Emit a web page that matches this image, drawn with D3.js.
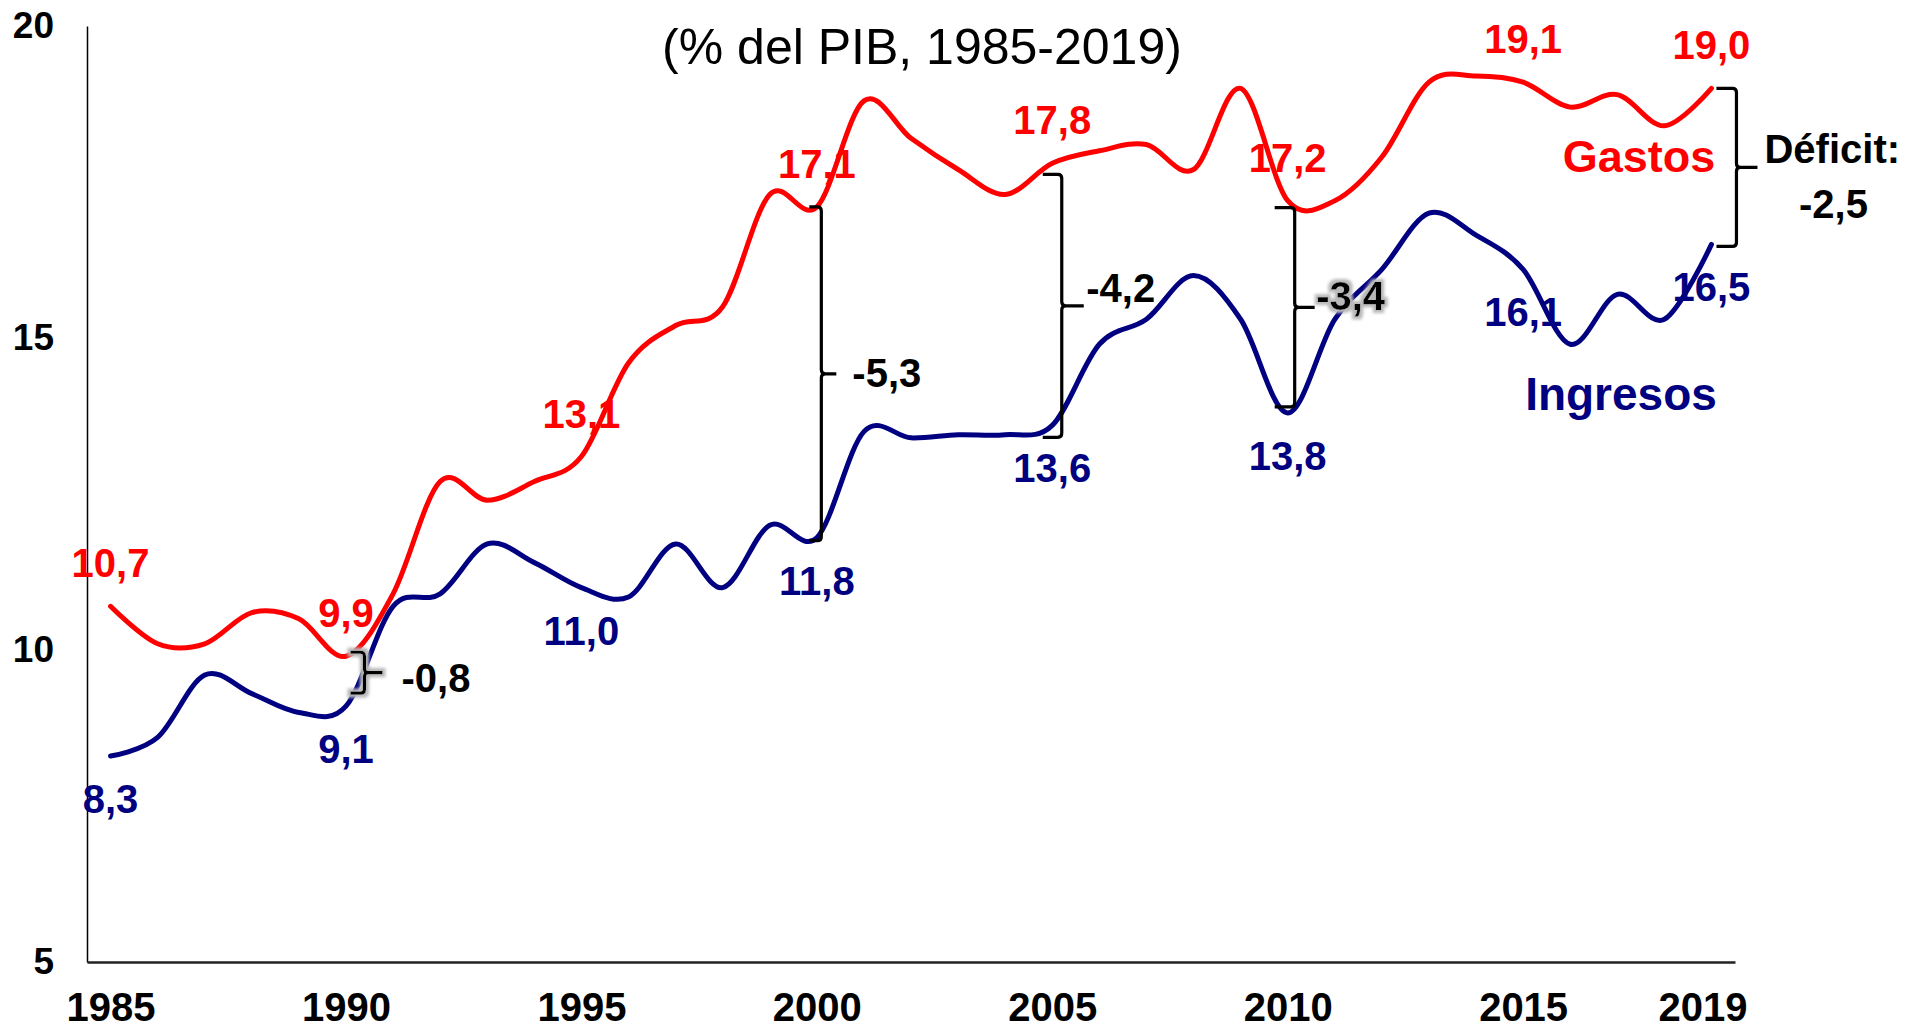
<!DOCTYPE html>
<html>
<head>
<meta charset="utf-8">
<script src="https://cdn.jsdelivr.net/npm/d3@7"></script>
<style>
  html, body { margin: 0; padding: 0; background: #fff; }
  svg { display: block; font-family: "Liberation Sans", Arial, sans-serif; }
</style>
</head>
<body>
<svg id="chart" width="1911" height="1031"></svg>
<script>
// ---------- data ----------
const years = d3.range(1985, 2020);
const gastos = [10.7, 10.1, 10.1, 10.6, 10.5, 9.9, 10.9, 12.7, 12.4, 12.7,
                13.1, 14.6, 15.2, 15.5, 17.3, 17.1, 18.8, 18.2, 17.7, 17.3,
                17.8, 18.0, 18.1, 17.7, 19.0, 17.2, 17.2, 17.9, 19.1, 19.2,
                19.1, 18.7, 18.9, 18.4, 19.0];
const ingresos = [8.3, 8.6, 9.6, 9.3, 9.0, 9.1, 10.7, 10.9, 11.7, 11.4,
                  11.0, 10.85, 11.7, 11.0, 12.0, 11.8, 13.5, 13.4, 13.45, 13.45,
                  13.6, 14.9, 15.3, 16.0, 15.3, 13.8, 15.3, 16.1, 17.0, 16.65,
                  16.1, 14.9, 15.7, 15.3, 16.5];
const labelYears = [1985, 1990, 1995, 2000, 2005, 2010, 2015, 2019];
const deficitYears = [1990, 2000, 2005, 2010, 2019];
const xTickYears = [1985, 1990, 1995, 2000, 2005, 2010, 2015, 2019];
const yTickValues = [5, 10, 15, 20];
const title = "(% del PIB, 1985-2019)";
const seriesNames = ["Gastos", "Ingresos"];

// ---------- layout ----------
const RED = "#ff0000", NAVY = "#000080";
const svg = d3.select("#chart");
const x = d3.scalePoint().domain(years).range([87, 1735]).padding(0.5);
const y = d3.scaleLinear().domain([5, 20]).range([962, 26]);
const fmt = v => d3.format(".1f")(v).replace(".", ",").replace("\u2212", "-");
const idx = yr => years.indexOf(yr);

// glow filter
const defs = svg.append("defs");
const f = defs.append("filter").attr("id", "glow")
  .attr("x", "-50%").attr("y", "-50%").attr("width", "200%").attr("height", "200%");
f.append("feMorphology").attr("in", "SourceAlpha").attr("operator", "dilate").attr("radius", 2.5).attr("result", "d");
f.append("feGaussianBlur").attr("in", "d").attr("stdDeviation", 1.8).attr("result", "b");
f.append("feFlood").attr("flood-color", "#b8b8b8").attr("result", "c");
f.append("feComposite").attr("in", "c").attr("in2", "b").attr("operator", "in").attr("result", "g");
const fm = f.append("feMerge");
fm.append("feMergeNode").attr("in", "g");
fm.append("feMergeNode").attr("in", "SourceGraphic");

// title
svg.append("text").attr("x", 922).attr("y", 64)
  .attr("text-anchor", "middle").attr("font-size", 50).attr("fill", "#000")
  .text(title);

// axes
const yAxis = d3.axisLeft(y).tickValues(yTickValues).tickSize(0).tickSizeOuter(0).tickPadding(33);
const gy = svg.append("g").attr("transform", "translate(87,0)").call(yAxis);
gy.select(".domain").attr("stroke", "#000").attr("stroke-width", 1.5);
gy.selectAll("text").attr("font-size", 37).attr("font-weight", "bold")
  .attr("font-family", "Liberation Sans, Arial, sans-serif").attr("fill", "#000");

const xAxis = d3.axisBottom(x).tickValues(xTickYears).tickSize(0).tickSizeOuter(0).tickPadding(31);
const gx = svg.append("g").attr("transform", "translate(0,962)").call(xAxis);
gx.select(".domain").attr("stroke", "#222").attr("stroke-width", 2.5);
gx.selectAll("text").attr("font-size", 40).attr("font-weight", "bold")
  .attr("font-family", "Liberation Sans, Arial, sans-serif").attr("fill", "#000")
  .attr("dx", d => d === 2019 ? -9 : 0);

// data labels (under the lines)
const lbl = svg.append("g").attr("font-weight", "bold").attr("font-size", 40).attr("text-anchor", "middle");
lbl.selectAll("text.g").data(labelYears).join("text").attr("class", "g")
  .attr("x", d => x(d)).attr("y", d => y(gastos[idx(d)]) - 29)
  .attr("fill", RED).text(d => fmt(gastos[idx(d)]));
lbl.selectAll("text.i").data(labelYears).join("text").attr("class", "i")
  .attr("x", d => x(d)).attr("y", d => y(ingresos[idx(d)]) + 57)
  .attr("fill", NAVY).text(d => fmt(ingresos[idx(d)]));

// lines
const line = arr => d3.line().x((d, i) => x(years[i])).y(d => y(d)).curve(d3.curveCardinal.tension(0))(arr);
svg.append("path").attr("d", line(gastos)).attr("fill", "none").attr("stroke", RED)
  .attr("stroke-width", 5).attr("stroke-linecap", "round");
svg.append("path").attr("d", line(ingresos)).attr("fill", "none").attr("stroke", NAVY)
  .attr("stroke-width", 5).attr("stroke-linecap", "round");

// series names
svg.append("text").attr("x", 1639).attr("y", 172).attr("text-anchor", "middle")
  .attr("font-size", 45).attr("font-weight", "bold").attr("fill", RED).text(seriesNames[0]);
svg.append("text").attr("x", 1621).attr("y", 410).attr("text-anchor", "middle")
  .attr("font-size", 46).attr("font-weight", "bold").attr("fill", NAVY).text(seriesNames[1]);

// deficit braces
const braceLayout = {
  1990: {dx: 18.5, t: -4, b: -13, hook: 14, nub: 18, lx: 55.5, ly: 5, glow: true},
  2000: {dx: 4.5, t: 0, b: 3, hook: 12, nub: 15, lx: 35.5, ly: -1},
  2005: {dx: 9.5, t: 11, b: 12, hook: 19, nub: 22, lx: 34, ly: -18.5},
  2010: {dx: 7, t: 7, b: -6, hook: 20, nub: 20, lx: 28.5, ly: -12, glowText: true},
  2019: {dx: 25, t: 0, b: 2, hook: 20, nub: 21}
};
function bracePath(xv, y1, y2, hook, nub) {
  const ym = (y1 + y2) / 2, r = 4;
  return `M${xv - hook},${y1} L${xv - r},${y1} Q${xv},${y1} ${xv},${y1 + r} L${xv},${ym - r} Q${xv},${ym} ${xv + r},${ym} L${xv + nub},${ym}` +
         ` M${xv + r},${ym} Q${xv},${ym} ${xv},${ym + r} L${xv},${y2 - r} Q${xv},${y2} ${xv - r},${y2} L${xv - hook},${y2}`;
}
const gb = svg.append("g");
deficitYears.forEach(yr => {
  const L = braceLayout[yr];
  const i = idx(yr);
  const xv = x(yr) + L.dx;
  const y1 = y(gastos[i]) + L.t, y2 = y(ingresos[i]) + L.b;
  const ym = (y1 + y2) / 2;
  const deficit = fmt(-(Math.round((gastos[i] - ingresos[i]) * 10) / 10));
  const p = gb.append("path").attr("d", bracePath(xv, y1, y2, L.hook, L.nub))
    .attr("fill", "none").attr("stroke", "#000").attr("stroke-width", 3.2);
  if (L.glow) p.attr("filter", "url(#glow)");
  if (yr === 2019) {
    gb.append("text").attr("x", xv + L.nub + 7).attr("y", ym - 19 + 14.5)
      .attr("font-size", 40).attr("font-weight", "bold").attr("fill", "#000").text("Déficit:");
    gb.append("text").attr("x", x(yr) + 122).attr("y", ym + 36 + 14.5).attr("text-anchor", "middle")
      .attr("font-size", 40).attr("font-weight", "bold").attr("fill", "#000").text(deficit);
  } else {
    const t = gb.append("text").attr("x", x(yr) + L.lx).attr("y", ym + L.ly + 14.5)
      .attr("font-size", 40).attr("font-weight", "bold").attr("fill", "#000").text(deficit);
    if (L.glowText) t.attr("filter", "url(#glow)");
  }
});
</script>
</body>
</html>
